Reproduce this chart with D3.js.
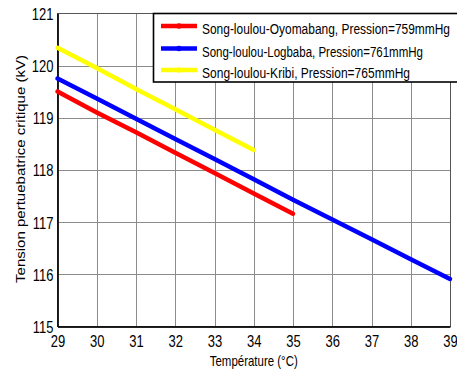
<!DOCTYPE html>
<html>
<head>
<meta charset="utf-8">
<script src="https://cdn.jsdelivr.net/npm/d3@7"></script>
<style>
  html, body { margin: 0; padding: 0; background: #fff; }
  svg { display: block; font-family: "Liberation Sans", Arial, sans-serif; }
</style>
</head>
<body>
<svg id="chart" width="457" height="369"></svg>
<script>
// values
const xTicks = [29, 30, 31, 32, 33, 34, 35, 36, 37, 38, 39];
const yTicks = [115, 116, 117, 118, 119, 120, 121];

const tempOyomabang = [29, 30, 31, 32, 33, 34, 35];
const voltOyomabang = [119.50, 119.10, 118.72, 118.33, 117.94, 117.55, 117.16];

const tempLogbaba = [29, 30, 31, 32, 33, 34, 35, 36, 37, 38, 39];
const voltLogbaba = [119.75, 119.37, 118.98, 118.59, 118.21, 117.82, 117.43, 117.05, 116.67, 116.29, 115.91];

const tempKribi = [29, 30, 31, 32, 33, 34];
const voltKribi = [120.34, 119.95, 119.55, 119.16, 118.77, 118.38];

const seriesNames = [
    'Song-loulou-Oyomabang, Pression=759mmHg',
    'Song-loulou-Logbaba, Pression=761mmHg',
    'Song-loulou-Kribi, Pression=765mmHg',
];
const seriesColors = ['#ff0000', '#0000ff', '#ffff00'];

const xLabel = 'Température (°C)';
const yLabel = 'Tension pertuebatrice critique (kV)';

const series = [
    { temps: tempOyomabang, values: voltOyomabang },
    { temps: tempLogbaba, values: voltLogbaba },
    { temps: tempKribi, values: voltKribi },
].map((s, i) => ({
    name: seriesNames[i],
    color: seriesColors[i],
    points: s.temps.map((t, j) => ({ t, v: s.values[j] })),
}));

// the source image is stretched vertically, so text is too
const stretch = 1.2;

const svg = d3.select('#chart');
const plot = { left: 57.5, right: 450, top: 13.3, bottom: 326.5 };

const x = d3.scaleLinear().domain([29, 39]).range([plot.left, plot.right]);
const y = d3.scaleLinear().domain([115, 121]).range([plot.bottom, plot.top]);

// grid
svg.append('g')
    .attr('transform', `translate(0,${plot.bottom})`)
    .call(d3.axisBottom(x).tickValues(xTicks).tickSize(-(plot.bottom - plot.top)).tickFormat(''))
    .call(g => g.select('.domain').remove())
    .call(g => g.selectAll('line').attr('stroke', '#8c8c8c').attr('shape-rendering', 'crispEdges'));

svg.append('g')
    .attr('transform', `translate(${plot.left},0)`)
    .call(d3.axisLeft(y).tickValues(yTicks).tickSize(-(plot.right - plot.left)).tickFormat(''))
    .call(g => g.select('.domain').remove())
    .call(g => g.selectAll('line').attr('stroke', '#8c8c8c').attr('shape-rendering', 'crispEdges'));

// box
svg.append('rect')
    .attr('x', plot.left).attr('y', plot.top)
    .attr('width', plot.right - plot.left).attr('height', plot.bottom - plot.top)
    .attr('fill', 'none').attr('stroke', '#555').attr('stroke-width', 1)
    .attr('shape-rendering', 'crispEdges');

// tick labels
svg.append('g')
    .attr('transform', `translate(0,${plot.bottom})`)
    .call(d3.axisBottom(x).tickValues(xTicks).tickFormat(d3.format('d')).tickSize(0).tickPadding(0))
    .call(g => g.select('.domain').attr('stroke', '#000').attr('stroke-width', 1.5))
    .call(g => g.selectAll('text')
        .attr('y', null).attr('dy', null)
        .attr('transform', `translate(0,20) scale(1,${stretch})`)
        .attr('font-size', 13).attr('fill', '#000')
        .attr('font-family', '"Liberation Sans", Arial, sans-serif'));

svg.append('g')
    .attr('transform', `translate(${plot.left},0)`)
    .call(d3.axisLeft(y).tickValues(yTicks).tickFormat(d3.format('d')).tickSize(0).tickPadding(0))
    .call(g => g.select('.domain').attr('stroke', '#000').attr('stroke-width', 1.5))
    .call(g => g.selectAll('text')
        .attr('x', null).attr('dy', null)
        .attr('transform', `translate(-4,6) scale(1,${stretch})`)
        .attr('font-size', 13).attr('fill', '#000')
        .attr('font-family', '"Liberation Sans", Arial, sans-serif'));

// axis titles (widths measured on the reference)
svg.append('text')
    .attr('transform', `translate(${(plot.left + plot.right) / 2},365.5) scale(1,${stretch})`)
    .attr('text-anchor', 'middle')
    .attr('font-size', 12)
    .attr('textLength', 88)
    .attr('lengthAdjust', 'spacingAndGlyphs')
    .text(xLabel);

svg.append('text')
    .attr('transform', `translate(25,169) scale(1,${stretch}) rotate(-90)`)
    .attr('text-anchor', 'middle')
    .attr('font-size', 12)
    .attr('textLength', 228 / stretch)
    .attr('lengthAdjust', 'spacingAndGlyphs')
    .text(yLabel);

// lines
const line = d3.line()
    .x(d => x(d.t))
    .y(d => y(d.v));

svg.append('g')
    .selectAll('path')
    .data(series)
    .join('path')
    .attr('fill', 'none')
    .attr('stroke', d => d.color)
    .attr('stroke-width', 4.5)
    .attr('stroke-linecap', 'round')
    .attr('stroke-linejoin', 'round')
    .attr('d', d => line(d.points));

// legend
const legend = svg.append('g');
legend.append('rect')
    .attr('x', 153.5).attr('y', 13.5)
    .attr('width', 310).attr('height', 68.5)
    .attr('fill', '#fff').attr('stroke', '#000').attr('stroke-width', 1.6);

const rowY = [26, 48.5, 70];
const rowWidth = [248, 221, 208];
const rows = legend.selectAll('g.row')
    .data(series)
    .join('g')
    .attr('class', 'row')
    .attr('transform', (d, i) => `translate(0,${rowY[i]})`);

rows.append('line')
    .attr('x1', 161).attr('x2', 197)
    .attr('stroke', d => d.color).attr('stroke-width', 4.5);
rows.append('circle')
    .attr('cx', 179).attr('r', 2.8)
    .attr('fill', d => d.color);
rows.append('text')
    .attr('transform', `translate(202,8) scale(1,${stretch + 0.05})`)
    .attr('font-size', 12)
    .attr('textLength', (d, i) => rowWidth[i])
    .attr('lengthAdjust', 'spacingAndGlyphs')
    .text(d => d.name);
</script>
</body>
</html>
